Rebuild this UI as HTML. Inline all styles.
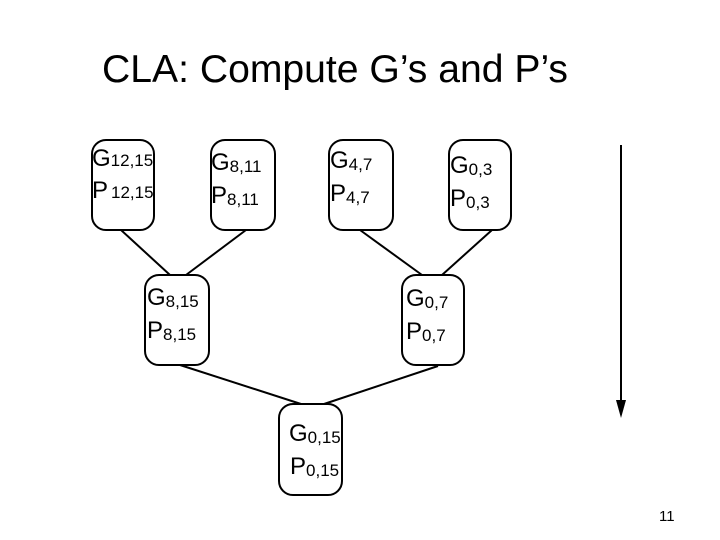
<!DOCTYPE html>
<html><head><style>
html,body{margin:0;padding:0;background:#fff;width:720px;height:540px;overflow:hidden}
text{font-family:"Liberation Sans",Arial,sans-serif;fill:#000}
.t{font-family:"Liberation Sans",Calibri,sans-serif}
</style></head><body>
<svg width="720" height="540" xmlns="http://www.w3.org/2000/svg">
<text x="102" y="82" font-size="39" class="t" textLength="466" lengthAdjust="spacingAndGlyphs">CLA: Compute G’s and P’s</text>
<g fill="none" stroke="#000" stroke-width="2">
<rect x="92" y="140" width="62" height="90" rx="14"/>
<rect x="211" y="140" width="64" height="90" rx="14"/>
<rect x="329" y="140" width="64" height="90" rx="14"/>
<rect x="449" y="140" width="62" height="90" rx="14"/>
<rect x="145" y="275" width="64" height="90" rx="14"/>
<rect x="402" y="275" width="62" height="90" rx="14"/>
<rect x="279" y="404" width="63" height="91" rx="14"/>
<line x1="121" y1="230" x2="170" y2="275"/>
<line x1="246" y1="230" x2="186" y2="275"/>
<line x1="360" y1="230" x2="422" y2="275"/>
<line x1="492" y1="230" x2="442" y2="275"/>
<line x1="180" y1="365" x2="301" y2="404"/>
<line x1="438" y1="366" x2="324" y2="404"/>
<line x1="621" y1="145" x2="621" y2="405"/>
</g>
<polygon points="616,400 626,400 621,418" fill="#000"/>
<g font-size="24">
<text x="92" y="166">G<tspan font-size="17" dy="0">12,15</tspan></text>
<text x="92" y="198">P<tspan font-size="17" dx="3">12,15</tspan></text>
<text x="211" y="170">G<tspan font-size="17" dy="2">8,11</tspan></text>
<text x="211" y="203">P<tspan font-size="17" dy="2">8,11</tspan></text>
<text x="330" y="168">G<tspan font-size="17" dy="2">4,7</tspan></text>
<text x="330" y="201">P<tspan font-size="17" dy="2">4,7</tspan></text>
<text x="450" y="173">G<tspan font-size="17" dy="2">0,3</tspan></text>
<text x="450" y="206">P<tspan font-size="17" dy="2">0,3</tspan></text>
<text x="147" y="305">G<tspan font-size="17" dy="2">8,15</tspan></text>
<text x="147" y="338">P<tspan font-size="17" dy="2">8,15</tspan></text>
<text x="406" y="306">G<tspan font-size="17" dy="2">0,7</tspan></text>
<text x="406" y="339">P<tspan font-size="17" dy="2">0,7</tspan></text>
<text x="289" y="441">G<tspan font-size="17" dy="2">0,15</tspan></text>
<text x="290" y="474">P<tspan font-size="17" dy="2">0,15</tspan></text>
</g>
<text x="659" y="521" font-size="15" class="t">11</text>
</svg>
</body></html>
